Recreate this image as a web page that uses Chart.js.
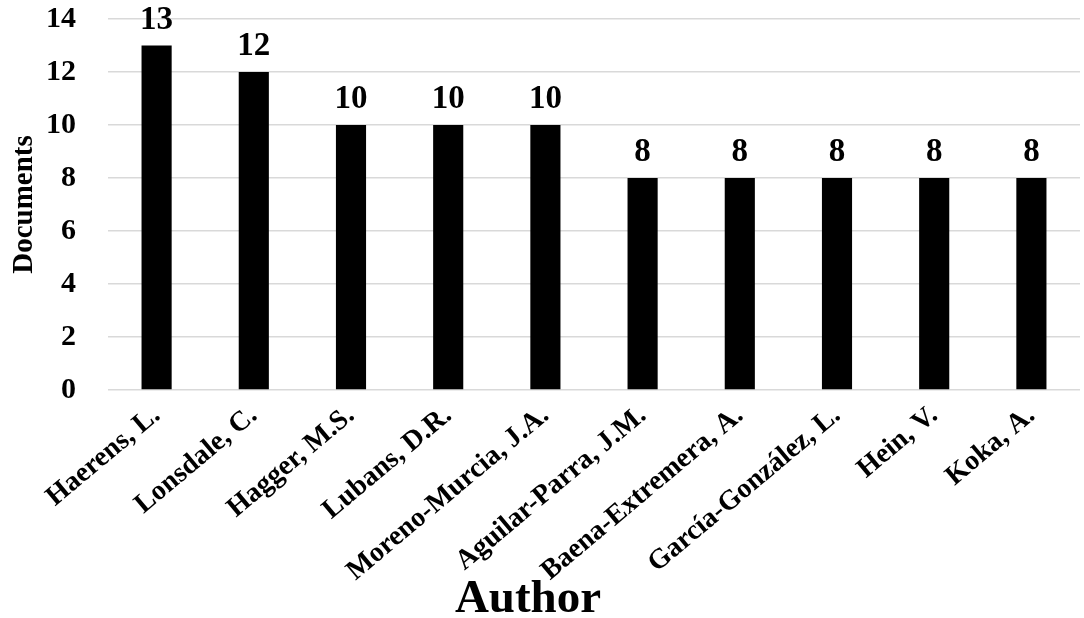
<!DOCTYPE html>
<html>
<head>
<meta charset="utf-8">
<script src="https://cdn.jsdelivr.net/npm/chart.js@4/dist/chart.umd.min.js"></script>
<style>
  html, body { margin: 0; padding: 0; background: #fff; }
  #wrap { width: 1084px; height: 618px; position: relative; }
</style>
</head>
<body>
<div id="wrap"><canvas id="c"></canvas></div>
<script>
const categories = ['Haerens, L.', 'Lonsdale, C.', 'Hagger, M.S.', 'Lubans, D.R.', 'Moreno-Murcia, J.A.',
  'Aguilar-Parra, J.M.', 'Baena-Extremera, A.', 'García-González, L.', 'Hein, V.', 'Koka, A.'];
const documents = [13, 12, 10, 10, 10, 8, 8, 8, 8, 8];
const yTickValues = [0, 2, 4, 6, 8, 10, 12, 14];
const xTitle = 'Author';
const yTitle = 'Documents';

const SERIF = "'Liberation Serif', 'Times New Roman', serif";

const valueLabels = {
  id: 'valueLabels',
  afterDatasetsDraw(chart) {
    const ctx = chart.ctx;
    ctx.save();
    ctx.font = 'bold 33px ' + SERIF;
    ctx.fillStyle = '#000';
    ctx.textAlign = 'center';
    ctx.textBaseline = 'alphabetic';
    const meta = chart.getDatasetMeta(0);
    meta.data.forEach((bar, i) => {
      ctx.fillText(String(chart.data.datasets[0].data[i]), bar.x, bar.y - 17);
    });
    ctx.restore();
  }
};

const axisTitleX = {
  id: 'axisTitleX',
  afterDraw(chart) {
    const ctx = chart.ctx;
    ctx.save();
    ctx.font = 'bold 47px ' + SERIF;
    ctx.fillStyle = '#000';
    ctx.textAlign = 'center';
    ctx.textBaseline = 'alphabetic';
    ctx.fillText(xTitle, 528, 612);
    ctx.restore();
  }
};

new Chart(document.getElementById('c'), {
  type: 'bar',
  data: {
    labels: categories,
    datasets: [{
      data: documents,
      backgroundColor: '#000',
      borderWidth: 0,
      barPercentage: 0.31,
      categoryPercentage: 1.0
    }]
  },
  options: {
    responsive: true,
    maintainAspectRatio: false,
    animation: false,
    layout: { padding: { top: 19, right: 4, left: 0, bottom: 0 } },
    plugins: { legend: { display: false }, tooltip: { enabled: false } },
    scales: {
      x: {
        grid: { display: false, drawTicks: false },
        border: { display: false },
        ticks: {
          color: '#000',
          font: { family: SERIF, size: 28, weight: 'bold' },
          minRotation: 40,
          maxRotation: 40,
          autoSkip: false,
          padding: 9
        },
        afterFit(scale) { scale.height = 228; scale.paddingLeft = 0; scale.paddingRight = 0; }
      },
      y: {
        min: 0,
        max: 14,
        afterBuildTicks(scale) { scale.ticks = yTickValues.map(v => ({ value: v })); },
        grid: { color: '#d9d9d9', lineWidth: 1.5, drawTicks: false },
        border: { display: false },
        ticks: {
          color: '#000',
          font: { family: SERIF, size: 30, weight: 'bold' },
          padding: 32
        },
        title: {
          display: true,
          text: yTitle,
          color: '#000',
          font: { family: SERIF, size: 29, weight: 'bold' },
          padding: { top: 7, bottom: 0 }
        },
        afterFit(scale) { scale.width = 108; scale.paddingTop = 0; scale.paddingBottom = 0; }
      }
    }
  },
  plugins: [valueLabels, axisTitleX]
});
</script>
</body>
</html>
